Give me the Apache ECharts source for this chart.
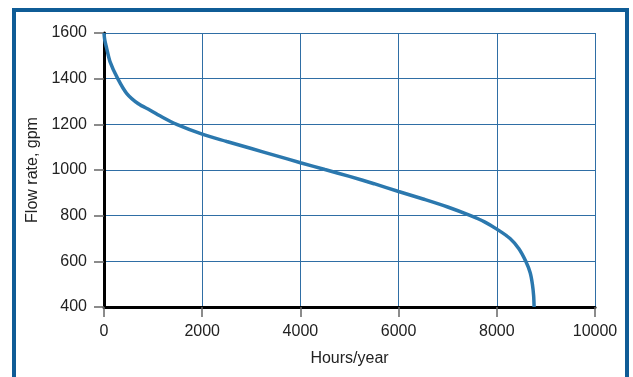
<!DOCTYPE html>
<html>
<head>
<meta charset="utf-8">
<script src="https://cdn.jsdelivr.net/npm/echarts@6/dist/echarts.min.js"></script>
<style>html,body{margin:0;padding:0;background:#fff;}#c{width:633px;height:377px;}</style>
</head>
<body>
<div id="c"></div>
<script>
const hours = [0, 15, 50, 122, 280, 460, 700, 940, 1200, 1480, 2000, 2500, 3000, 3500, 4000, 4500, 5000, 5500, 6000, 6500, 7000, 7466, 7750, 8000, 8270, 8450, 8590, 8680, 8725, 8750, 8760];
const flow  = [1600, 1570, 1537, 1475, 1400, 1336, 1290, 1262, 1230, 1200, 1157, 1125, 1094, 1063, 1032, 1002, 972, 940, 906, 873, 838, 800, 773, 741, 700, 655, 600, 550, 500, 450, 400];
const xTicks = [0, 2000, 4000, 6000, 8000, 10000];
const yTicks = [400, 600, 800, 1000, 1200, 1400, 1600];

const chart = echarts.init(document.getElementById('c'), null, {renderer: 'canvas'});
const font = 'Liberation Sans, Arial, sans-serif';
chart.setOption({
  animation: false,
  backgroundColor: '#fff',
  graphic: [{
    type: 'rect', shape: {x: 14, y: 10, width: 613, height: 380},
    style: {fill: 'none', stroke: '#0f5c96', lineWidth: 4}, z: 100
  }],
  grid: {left: 104, right: 38, top: 33, bottom: 70},
  xAxis: {
    type: 'value', min: xTicks[0], max: xTicks[xTicks.length - 1], interval: 2000,
    name: 'Hours/year', nameLocation: 'middle', nameGap: 44,
    nameTextStyle: {fontFamily: font, fontSize: 16, color: '#222'},
    axisLine: {lineStyle: {color: '#000', width: 3}},
    axisTick: {show: true, length: 10, lineStyle: {color: '#666', width: 1.5}},
    axisLabel: {fontFamily: font, fontSize: 16, color: '#222', margin: 17, formatter: v => String(v)},
    splitLine: {show: true, lineStyle: {color: '#2f6ea5', width: 1}}
  },
  yAxis: {
    type: 'value', min: yTicks[0], max: yTicks[yTicks.length - 1], interval: 200,
    name: 'Flow rate, gpm', nameLocation: 'middle', nameGap: 60, nameRotate: 90,
    nameTextStyle: {fontFamily: font, fontSize: 16, color: '#222'},
    axisLine: {show: true, lineStyle: {color: '#000', width: 3}},
    axisTick: {show: true, length: 10, lineStyle: {color: '#666', width: 1.5}},
    axisLabel: {fontFamily: font, fontSize: 16, color: '#222', margin: 17, formatter: v => String(v)},
    splitLine: {show: true, lineStyle: {color: '#2f6ea5', width: 1}}
  },
  series: [{
    type: 'line', smooth: 0.3, symbol: 'none',
    data: hours.map((h, i) => [h, flow[i]]),
    lineStyle: {color: '#2b78ae', width: 3.5},
    z: 3
  }]
});
</script>
</body>
</html>
